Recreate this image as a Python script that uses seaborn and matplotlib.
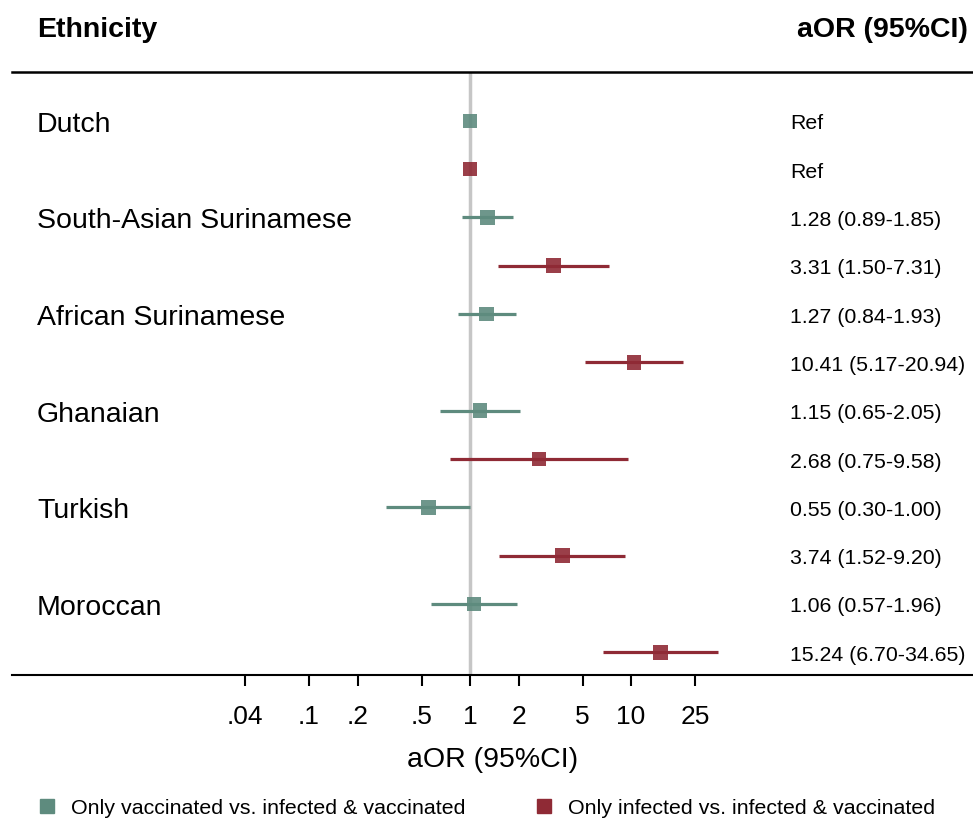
import matplotlib.pyplot as plt
import numpy as np
import pandas as pd
import seaborn as sns
from matplotlib.lines import Line2D

# Data
groups = ['Dutch', 'South-Asian Surinamese', 'African Surinamese',
          'Ghanaian', 'Turkish', 'Moroccan']
vacc_or = [1.00, 1.28, 1.27, 1.15, 0.55, 1.06]
vacc_lo = [1.00, 0.89, 0.84, 0.65, 0.30, 0.57]
vacc_hi = [1.00, 1.85, 1.93, 2.05, 1.00, 1.96]
inf_or = [1.00, 3.31, 10.41, 2.68, 3.74, 15.24]
inf_lo = [1.00, 1.50, 5.17, 0.75, 1.52, 6.70]
inf_hi = [1.00, 7.31, 20.94, 9.58, 9.20, 34.65]
vacc_text = ['Ref', '1.28 (0.89-1.85)', '1.27 (0.84-1.93)',
             '1.15 (0.65-2.05)', '0.55 (0.30-1.00)', '1.06 (0.57-1.96)']
inf_text = ['Ref', '3.31 (1.50-7.31)', '10.41 (5.17-20.94)',
            '2.68 (0.75-9.58)', '3.74 (1.52-9.20)', '15.24 (6.70-34.65)']
tick_vals = [0.04, 0.1, 0.2, 0.5, 1, 2, 5, 10, 25]
tick_labels = ['.04', '.1', '.2', '.5', '1', '2', '5', '10', '25']
series = ['Only vaccinated vs. infected & vaccinated',
          'Only infected vs. infected & vaccinated']
colors = {series[0]: '#5e8b7e', series[1]: '#8f2a35'}

# Build long table: each group gets two rows
rows = []
for i, g in enumerate(groups):
    rows.append(dict(group=g, row=2 * i, series=series[0], aor=vacc_or[i],
                     lo=vacc_lo[i], hi=vacc_hi[i], txt=vacc_text[i]))
    rows.append(dict(group=g, row=2 * i + 1, series=series[1], aor=inf_or[i],
                     lo=inf_lo[i], hi=inf_hi[i], txt=inf_text[i]))
df = pd.DataFrame(rows)

sns.set_style('white')
plt.rcParams['font.family'] = ['Liberation Sans', 'DejaVu Sans']
plt.rcParams['text.color'] = 'black'
plt.rcParams['xtick.color'] = 'black'
plt.rcParams['axes.labelcolor'] = 'black'

fig = plt.figure(figsize=(9.73, 8.2), dpi=100)
ax = fig.add_axes([12 / 973, 144 / 820, 961 / 973, 603 / 820])

ax.axvline(1, color='#c6c6c6', lw=2.5, zorder=1)

# CI lines
for s, d in df.groupby('series'):
    ax.hlines(d['row'], d['lo'], d['hi'], color=colors[s], lw=2.3, zorder=2)

sns.scatterplot(data=df, x='aor', y='row', hue='series', palette=colors,
                marker='s', s=110, alpha=0.9, linewidth=0, legend=False,
                ax=ax, zorder=3)

ax.set_xscale('log')
ax.set_xlim(10 ** -2.845, 10 ** 3.124)
ax.set_ylim(11.47, -1.01)
ax.set_xticks(tick_vals)
ax.set_xticklabels(tick_labels)
ax.minorticks_off()
ax.set_yticks([])
ax.set_ylabel('')
ax.set_xlabel('aOR (95%CI)', fontsize=20.5, labelpad=13)
ax.tick_params(axis='x', direction='out', length=8, width=1.5,
               labelsize=19, pad=13, bottom=True, color='black')

for side in ['left', 'right']:
    ax.spines[side].set_visible(False)
ax.spines['top'].set_linewidth(1.8)
ax.spines['bottom'].set_linewidth(1.5)
ax.spines['top'].set_color('black')
ax.spines['bottom'].set_color('black')

# Group labels and estimates text
for _, r in df.iterrows():
    if r['series'] == series[0]:
        ax.text(0.026, r['row'], r['group'], transform=ax.get_yaxis_transform(),
                fontsize=20.5, va='center_baseline', ha='left')
    ax.text(0.8096, r['row'], r['txt'], transform=ax.get_yaxis_transform(),
            fontsize=15.3, va='center_baseline', ha='left')

fig.text(37 / 973, 1 - 30 / 820, 'Ethnicity', fontsize=20.5, fontweight='bold',
         va='center', ha='left')
fig.text(968 / 973, 1 - 30 / 820, 'aOR (95%CI)', fontsize=20.5,
         fontweight='bold', va='center', ha='right')

handles = [Line2D([], [], marker='s', ls='', markersize=10, color=colors[s])
           for s in series]
fig.legend(handles, series, loc='center left', ncol=2, frameon=False,
           bbox_to_anchor=(15 / 973, 1 - 809 / 820), fontsize=15.4,
           handletextpad=0.5, columnspacing=3.1, handlelength=1.2)

fig.savefig('out.png', dpi=100)
